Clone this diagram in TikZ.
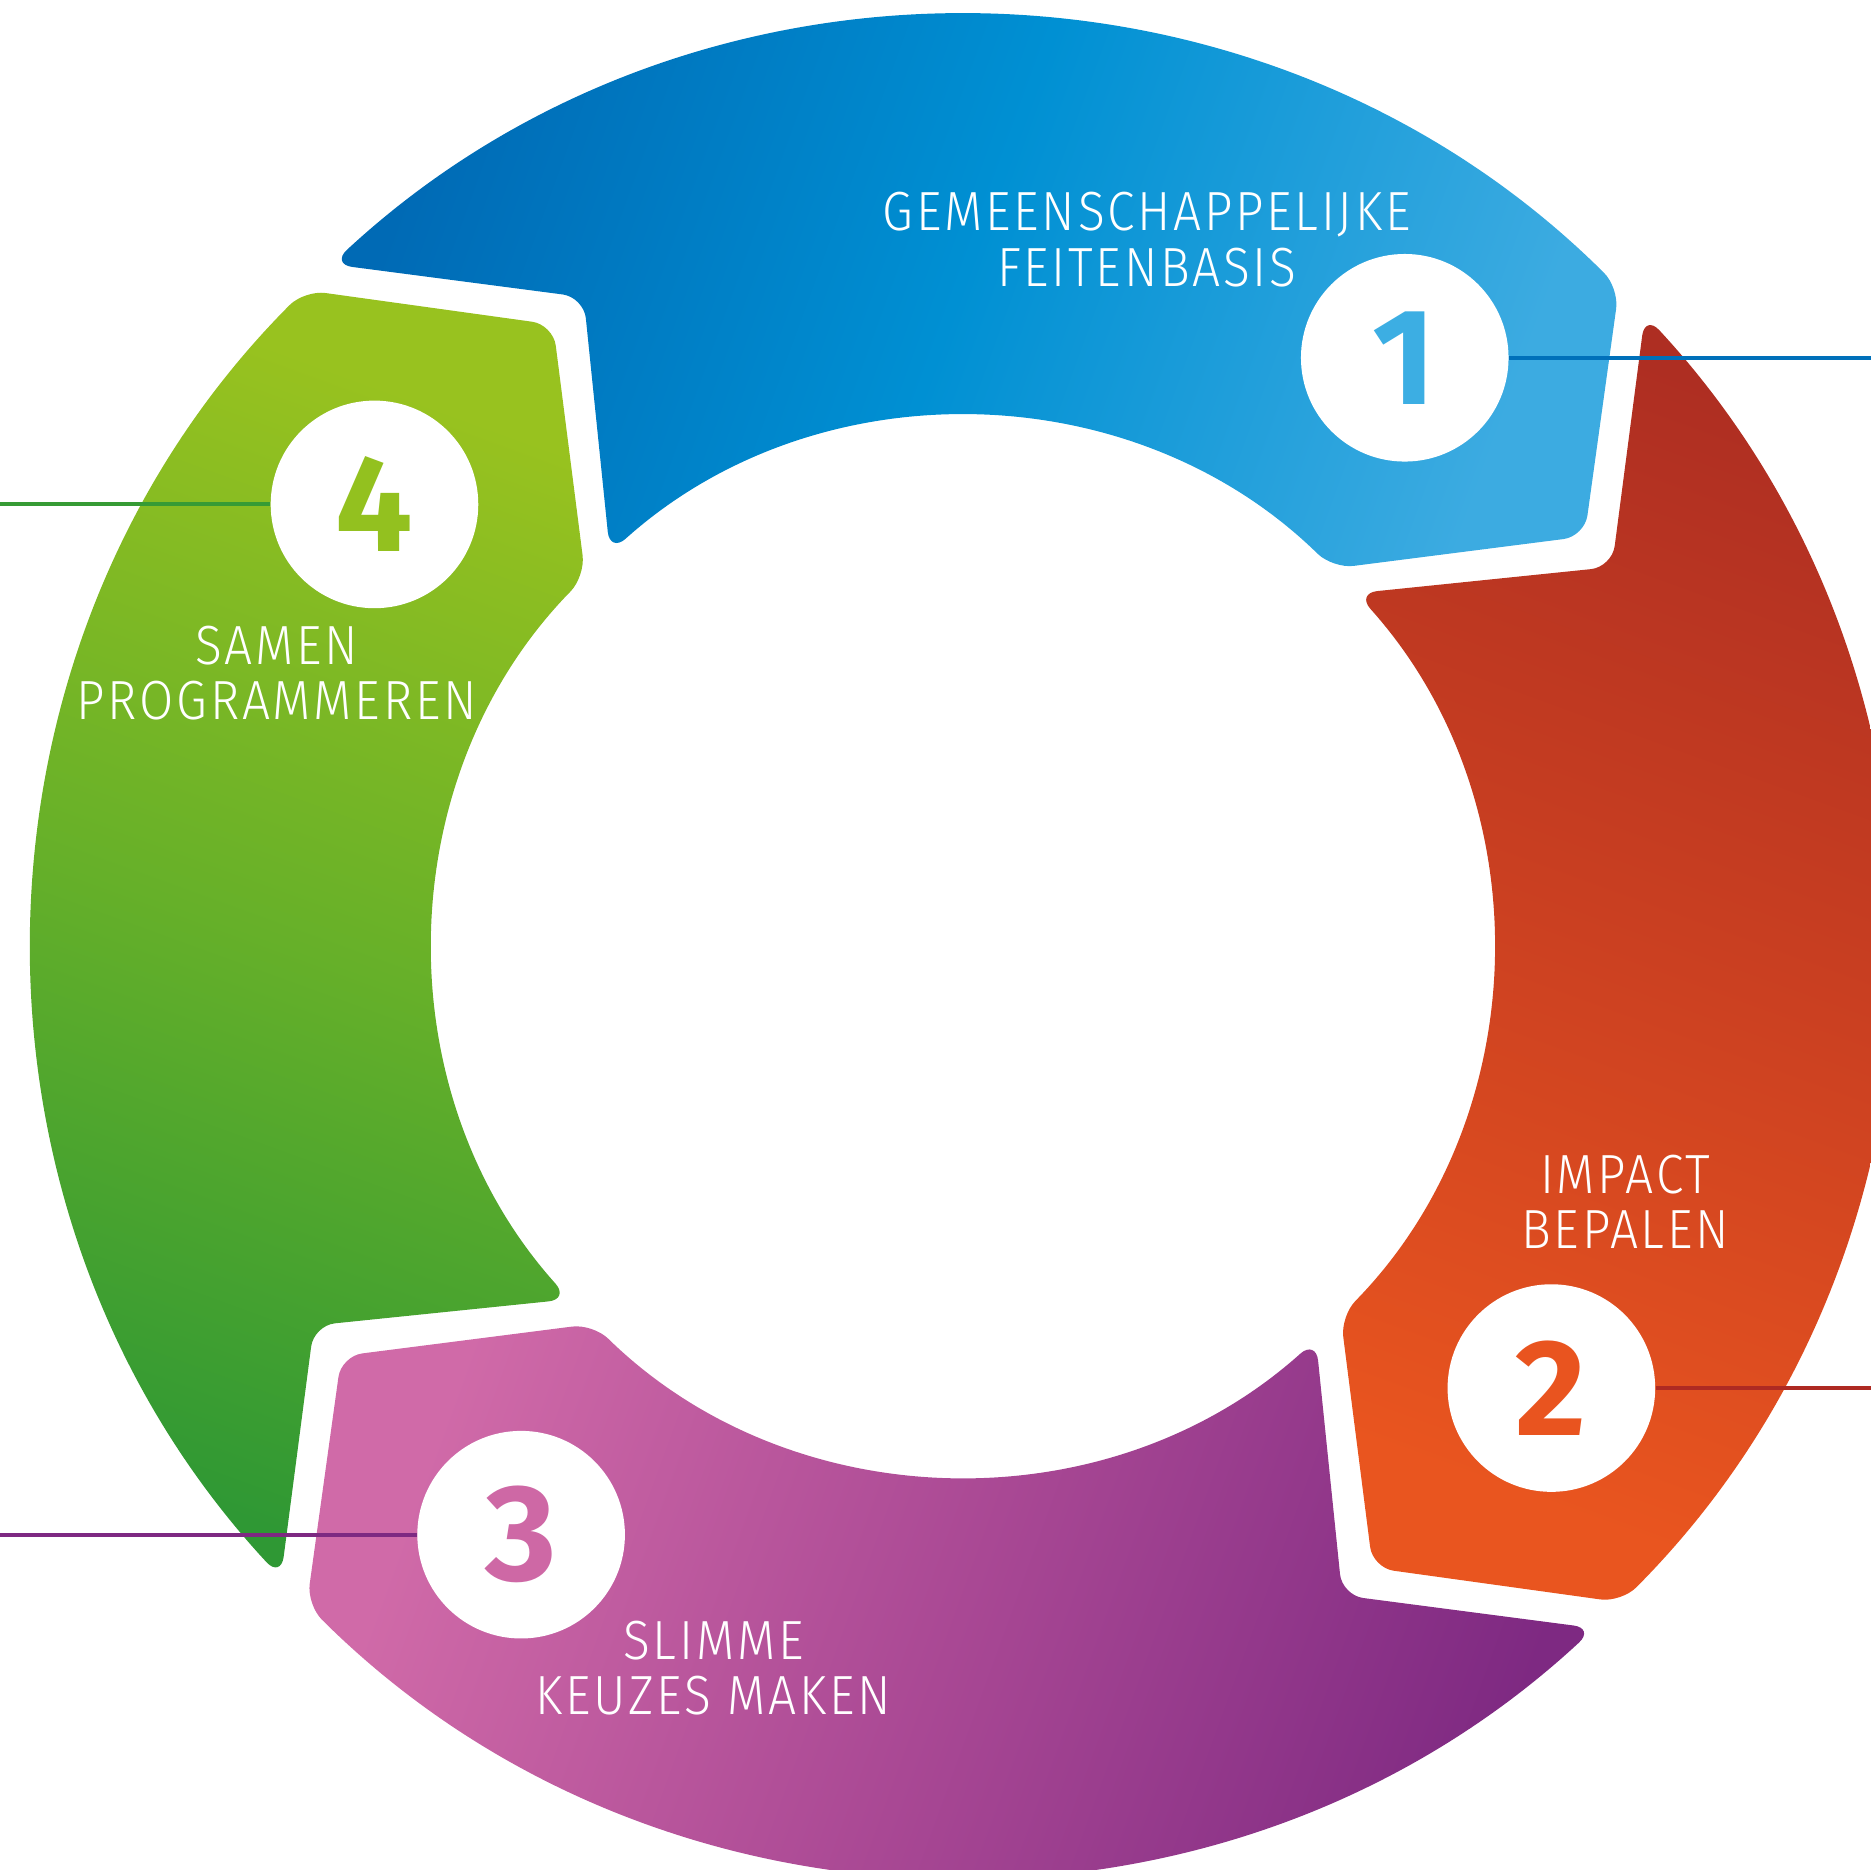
\documentclass[tikz,border=0pt]{standalone}
\usepackage{fontspec}
\usepackage{tikz}
\usetikzlibrary{calc,positioning}
\newfontfamily\labfont{Fira Sans Light}[LetterSpace=5,FakeStretch=0.9]
\newfontfamily\numfont{Fira Sans}

\definecolor{blueDark}{HTML}{006AB5}
\definecolor{blueMid}{HTML}{0090D3}
\definecolor{blueLight}{HTML}{3CABE1}
\definecolor{redDark}{HTML}{AE2E22}
\definecolor{redMid}{HTML}{CB4021}
\definecolor{redLight}{HTML}{E9551F}
\definecolor{purpleDark}{HTML}{7E2982}
\definecolor{purpleMid}{HTML}{A94894}
\definecolor{purpleLight}{HTML}{D06AA8}
\definecolor{greenDark}{HTML}{2F9834}
\definecolor{greenMid}{HTML}{66B029}
\definecolor{greenLight}{HTML}{98C21F}
\definecolor{num1}{HTML}{3CAEE3}
\definecolor{num2}{HTML}{E9541F}
\definecolor{num3}{HTML}{CE68A5}
\definecolor{num4}{HTML}{93C11F}
\definecolor{line1}{HTML}{0070BA}
\definecolor{line2}{HTML}{AE2A22}
\definecolor{line3}{HTML}{7E2982}
\definecolor{line4}{HTML}{369B35}

\begin{document}
\begin{tikzpicture}[x=0.011932cm,y=0.011932cm,
		arcseg/.style={rounded corners=6pt},
		numdisc/.style={circle,fill=white,inner sep=0pt,minimum size=2.076cm,
			font=\numfont\bfseries\fontsize{39}{39}\selectfont},
		lbl/.style={text=white,align=center,inner sep=0pt,
			font=\labfont\fontsize{15.7}{15.8}\selectfont},
		spoke/.style={line width=1.15pt}]
	\useasboundingbox (-807,-774) rectangle (761,793);
	\clip (-807,-774) rectangle (761,793);
	\coordinate (W) at (-807,0);
	\coordinate (E) at (761,0);
	% ring segments
	\foreach \o/\c/\s in {0/blue/70,-90/red/-20,-180/purple/-110,-270/green/160}
		\path[arcseg,top color=\c Dark,bottom color=\c Light,middle color=\c Mid,shading angle=\s]
			({132.8+\o}:779) arc[start angle=132.8+\o,end angle=45.1+\o,radius=779]
			-- ({33.4+\o}:624) -- ({45.6+\o}:443)
			arc[start angle=45.6+\o,end angle=131.9+\o,radius=443]
			-- ({120.3+\o}:630) -- cycle;
	% number discs
	\node[numdisc,text=num1] (n_1) at (53.1:616.7) {1};
	\node[numdisc,text=num2] (n_2) at (-36.9:616.7) {2};
	\node[numdisc,text=num3] (n_3) at (-126.9:616.7) {3};
	\node[numdisc,text=num4] (n_4) at (143.1:616.7) {4};
	\draw[spoke,line1] (n_1.east) -- (n_1.east -| E);
	\draw[spoke,line2] (n_2.east) -- (n_2.east -| E);
	\draw[spoke,line3] (n_3.west) -- (n_3.west -| W);
	\draw[spoke,line4] (n_4.west) -- (n_4.west -| W);
	% step labels
	\node[lbl] (l_1) at (154,592) {GEMEENSCHAPPELIJKE\\FEITENBASIS};
	\node[lbl] (l_2) at (555,-214) {IMPACT\\BEPALEN};
	\node[lbl] (l_3) at (-209,-605) {SLIMME\\KEUZES MAKEN};
	\node[lbl] (l_4) at (-575,229) {SAMEN\\PROGRAMMEREN};
\end{tikzpicture}
\end{document}
